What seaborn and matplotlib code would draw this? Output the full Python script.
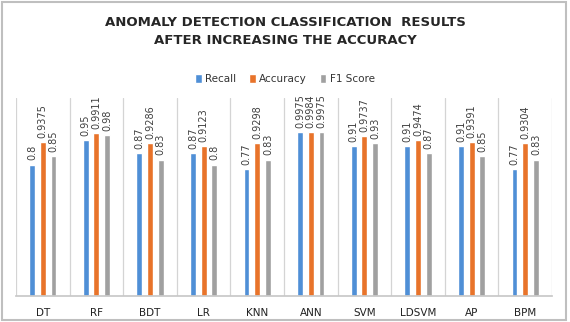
import matplotlib
matplotlib.use("Agg")
import matplotlib.pyplot as plt
import seaborn as sns
import pandas as pd
from matplotlib.patches import Rectangle

models = ["DT", "RF", "BDT", "LR", "KNN", "ANN", "SVM", "LDSVM", "AP", "BPM"]
recall = [0.8, 0.95, 0.87, 0.87, 0.77, 0.9975, 0.91, 0.91, 0.91, 0.77]
accuracy = [0.9375, 0.9911, 0.9286, 0.9123, 0.9298, 0.9984, 0.9737, 0.9474, 0.9391, 0.9304]
f1 = [0.85, 0.98, 0.83, 0.8, 0.83, 0.9975, 0.93, 0.87, 0.85, 0.83]
series = ["Recall", "Accuracy", "F1 Score"]
colors = ["#4F8FD6", "#E8732A", "#A0A0A0"]

rows = []
for name, vals in zip(series, [recall, accuracy, f1]):
    for m, v in zip(models, vals):
        rows.append({"Model": m, "Metric": name, "Value": v})
df = pd.DataFrame(rows)

sns.set_theme(style="white")
plt.rcParams["font.family"] = ["DejaVu Sans"]

fig = plt.figure(figsize=(5.7, 3.22), dpi=100)
ax = fig.add_axes([16 / 570, 26 / 322, 536 / 570, 198 / 322])

sns.barplot(data=df, x="Model", y="Value", hue="Metric", order=models,
            hue_order=series, palette=colors, width=0.6, gap=0.45,
            saturation=1, ax=ax, legend=True)

for cont in ax.containers:
    labels = [f"{v:g}" for v in cont.datavalues]
    ax.bar_label(cont, labels=labels, rotation=90, padding=3, fontsize=7,
                 color="#404040")

ax.set_ylim(0, 1.205)
ax.set_xlim(-0.5, len(models) - 0.5)
ax.set_yticks([])
ax.set_xlabel("")
ax.set_ylabel("")
for b in [i - 0.5 for i in range(len(models) + 1)]:
    ax.axvline(b, color="#D4D4D4", lw=0.9, zorder=0)
for s in ["top", "left", "right"]:
    ax.spines[s].set_visible(False)
ax.spines["bottom"].set_color("#C8C8C8")
ax.tick_params(axis="x", length=0, pad=9, labelsize=7.5, labelcolor="#222222")

leg = ax.legend(loc="center", bbox_to_anchor=(0.5, 1 - 79 / 322), bbox_transform=fig.transFigure,
                ncol=3, frameon=False, fontsize=7.5, handlelength=0.65, handleheight=0.9,
                columnspacing=1.2, handletextpad=0.35)
for t in leg.get_texts():
    t.set_color("#333333")

fig.text(0.5, 1 - 22 / 322, "ANOMALY DETECTION CLASSIFICATION  RESULTS",
         ha="center", va="center", fontsize=9.5, fontweight="bold", color="#262626")
fig.text(0.5, 1 - 41 / 322, "AFTER INCREASING THE ACCURACY",
         ha="center", va="center", fontsize=9.5, fontweight="bold", color="#262626")

fig.patches.append(Rectangle((0.003, 0.005), 0.99, 0.99, transform=fig.transFigure,
                             fill=False, edgecolor="#BFBFBF", lw=1.5))

fig.savefig("out.png", dpi=100)
